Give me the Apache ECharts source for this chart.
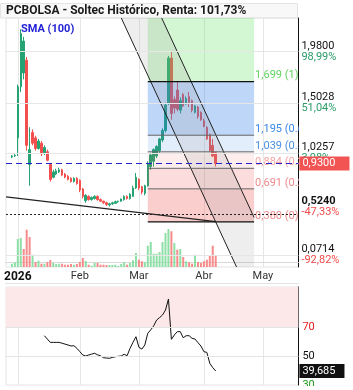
<!DOCTYPE html>
<html>
<head>
<meta charset="utf-8">
<script src="https://cdn.jsdelivr.net/npm/echarts@6/dist/echarts.min.js"></script>
<style>
  html, body { margin: 0; padding: 0; background: #fff; }
  #chart { width: 353px; height: 390px; }
</style>
</head>
<body>
<div id="chart"></div>
<script>
// trading days shown on the axis (weekdays minus market holidays)
const holidays = ['2025-12-25', '2025-12-26', '2026-01-01', '2026-04-03', '2026-04-06', '2026-05-01'];
const monthNames = ['Ene', 'Feb', 'Mar', 'Abr', 'May', 'Jun', 'Jul', 'Ago', 'Sep', 'Oct', 'Nov', 'Dic'];
const dates = [];
for (let t = Date.UTC(2025, 11, 24); t <= Date.UTC(2026, 4, 20); t += 86400000) {
  const d = new Date(t), s = d.toISOString().slice(0, 10);
  if (d.getUTCDay() !== 0 && d.getUTCDay() !== 6 && holidays.indexOf(s) < 0) dates.push(s);
}

// daily prices from 2025-12-30 to 2026-04-09
const firstDay = '2025-12-30';
const opens = [0.99, 1.00, 1.17, 1.65, 1.78, 1.90, 0.92, 1.22, 1.17, 1.07, 1.12, 1.03, 1.04, 0.92, 0.80, 0.83,
  0.85, 0.87, 0.83, 0.81, 0.79, 0.76, 0.79, 0.77, 0.69, 0.58, 0.62, 0.59, 0.60, 0.62, 0.59, 0.575, 0.56, 0.54,
  0.55, 0.555, 0.57, 0.575, 0.59, 0.62, 0.60, 0.62, 0.70, 0.78, 0.71, 0.65, 0.72, 0.90, 0.95, 1.00, 1.05, 1.15,
  1.24, 1.50, 1.92, 1.53, 1.62, 1.43, 1.58, 1.49, 1.56, 1.52, 1.41, 1.46, 1.41, 1.33, 1.27, 1.20, 1.10, 1.03];
const closes = [1.00, 1.005, 1.65, 2.15, 2.08, 1.10, 1.06, 1.12, 1.07, 1.14, 1.02, 1.08, 0.96, 0.78, 0.85, 0.86,
  0.87, 0.82, 0.80, 0.78, 0.76, 0.79, 0.74, 0.68, 0.62, 0.63, 0.59, 0.61, 0.62, 0.59, 0.575, 0.56, 0.545, 0.55,
  0.56, 0.57, 0.575, 0.595, 0.62, 0.60, 0.64, 0.70, 0.80, 0.70, 0.66, 0.72, 0.93, 1.01, 1.06, 1.09, 1.16, 1.24,
  1.48, 1.92, 1.40, 1.45, 1.44, 1.52, 1.47, 1.54, 1.50, 1.43, 1.47, 1.37, 1.34, 1.28, 1.16, 1.05, 1.00, 0.93];
const lows = [0.98, 0.99, 1.00, 1.60, 1.72, 1.05, 0.72, 1.10, 1.05, 1.06, 1.00, 1.01, 0.95, 0.76, 0.79, 0.82,
  0.84, 0.81, 0.79, 0.77, 0.75, 0.75, 0.73, 0.66, 0.60, 0.56, 0.58, 0.58, 0.59, 0.58, 0.57, 0.55, 0.53, 0.524,
  0.54, 0.55, 0.56, 0.57, 0.58, 0.59, 0.59, 0.62, 0.69, 0.68, 0.64, 0.63, 0.71, 0.87, 0.90, 0.98, 1.03, 1.13,
  1.22, 1.48, 1.34, 1.40, 1.42, 1.40, 1.46, 1.48, 1.46, 1.41, 1.40, 1.35, 1.33, 1.27, 1.15, 1.04, 0.99, 0.90];
const highs = [1.01, 1.02, 1.67, 2.19, 2.12, 1.93, 1.27, 1.25, 1.19, 1.16, 1.14, 1.10, 1.06, 0.93, 0.87, 0.88,
  0.89, 0.88, 0.84, 0.82, 0.80, 0.80, 0.80, 0.78, 0.70, 0.64, 0.63, 0.62, 0.63, 0.63, 0.60, 0.58, 0.57, 0.56,
  0.57, 0.58, 0.58, 0.60, 0.63, 0.63, 0.65, 0.72, 0.84, 0.79, 0.72, 0.73, 0.95, 1.03, 1.07, 1.10, 1.17, 1.26,
  1.50, 1.94, 1.98, 1.56, 1.70, 1.55, 1.59, 1.56, 1.60, 1.53, 1.48, 1.47, 1.42, 1.35, 1.28, 1.21, 1.16, 1.04];
// volume, millions of shares
const volumes = [0.33, 0.47, 2.8, 2.9, 1.8, 3.73, 3.0, 1.23, 0.5, 0.63, 0.33, 0.33, 0.5, 0.7, 0.4, 0.3,
  0.33, 0.33, 0.23, 0.23, 0.3, 0.23, 0.3, 0.5, 0.9, 0.6, 0.23, 0.13, 0.4, 0.4, 0.23, 0.23, 0.2, 0.2,
  0.2, 0.23, 0.1, 0.3, 0.47, 0.23, 0.4, 0.67, 1.4, 0.73, 0.57, 0.5, 2.13, 2.5, 1.33, 1.33, 1.5, 2.5,
  3.4, 3.8, 3.57, 2.4, 1.73, 1.8, 1.0, 0.57, 0.47, 0.33, 1.23, 0.5, 0.4, 0.57, 0.73, 1.17, 2.13, 1.13];

// RSI(14) from 2026-01-15
const rsiStart = '2026-01-15';
const rsi = [64.0, 61.7, 59.4, 59.4, 59.4, 59.4, 58.8, 58.2, 57.6, 56.9, 57.1, 55.3, 53.0, 50.7, 50.0, 50.7,
  51.3, 51.9, 50.8, 50.2, 48.8, 48.6, 48.4, 49.0, 49.5, 49.8, 50.0, 51.2, 50.2, 55.3, 59.5, 63.3, 56.0, 54.8,
  57.6, 65.7, 68.0, 70.8, 74.8, 76.5, 78.3, 81.7, 89.3, 61.5, 64.5, 66.8, 66.8, 62.6, 64.0, 64.0, 62.2, 61.7,
  59.2, 56.9, 53.0, 52.5, 45.0, 42.0, 39.68];
const rsiLast = 39.685;

// right price axis labels
const tickValues = [1.98, 1.5028, 1.0257, 0.524, 0.0714];
const tickPct = ['98,99%', '51,04%', '3,08%', '-47,33%', '-92,82%'];
const gridTicks = [1.98, 1.5028, 1.0257, 0.0714];
const lastPrice = 0.93;
const smaLevel = 0.93;
const dottedLevel = 0.452;

// fibonacci retracement
const fibFrom = '2026-03-05', fibTo = '2026-04-28';
const fibLevels = [1.699, 1.195, 1.039, 0.884, 0.691, 0.380];
const fibRatios = ['1', '0.618', '0.5', '0.382', '0.236', '0'];
// descending channel and trend line
const chanLeft = [['2026-03-02', 1.939], ['2026-04-10', 0.320]];
const chanRight = [['2026-03-23', 1.860], ['2026-04-28', 0.422]];
const trendLine = [['2025-12-24', 0.616], ['2026-04-09', 0.383]];

const FONT = 'Roboto, "DejaVu Sans", sans-serif';
const NONE = 'rgba(0,0,0,0)';
const dec = (v, n) => v.toFixed(n).replace('.', ',');
const pad = n => new Array(n).fill('-');
const off = dates.indexOf(firstDay);

const candleData = pad(off).concat(opens.map((o, i) => [o, closes[i], lows[i], highs[i]]));
const volData = pad(off).concat(volumes.map((v, i) => ({
  value: v,
  itemStyle: { color: (i === 0 || closes[i] >= closes[i - 1]) ? '#8ddfa6' : '#f78b8b' }
})));
const rsiData = pad(dates.indexOf(rsiStart)).concat(rsi);

const isMonthStart = i => i > 0 && dates[i].slice(5, 7) !== dates[i - 1].slice(5, 7);
const idx = d => dates.indexOf(d);

const chart = echarts.init(document.getElementById('chart'));

function drawings(params, api) {
  const cs = params.coordSys;
  const top = cs.y, bottom = cs.y + cs.height;
  const pt = p => api.coord([idx(p[0]), p[1]]);
  const xAt = (a, b, y) => a[0] + (b[0] - a[0]) * (y - a[1]) / (b[1] - a[1]);
  const kids = [];
  const x0 = api.coord([idx(fibFrom), 0])[0], x1 = api.coord([idx(fibTo), 0])[0];
  const ys = fibLevels.map(v => api.coord([0, v])[1]);
  const fills = ['rgba(80,220,80,0.25)', 'rgba(40,120,230,0.30)', 'rgba(40,120,230,0.13)',
    'rgba(240,80,80,0.10)', 'rgba(240,80,80,0.20)', 'rgba(240,80,80,0.28)'];
  const bounds = [top].concat(ys);
  for (let i = 0; i < fills.length; i++) {
    kids.push({ type: 'rect', shape: { x: x0, y: bounds[i], width: x1 - x0, height: bounds[i + 1] - bounds[i] },
      style: { fill: fills[i] } });
  }
  // channel
  const a = pt(chanLeft[0]), b = pt(chanLeft[1]);
  const c = pt(chanRight[0]), d = pt(chanRight[1]);
  const lt = [xAt(a, b, top), top], lb = [xAt(a, b, bottom), bottom];
  const rt = [xAt(c, d, top), top];
  kids.push({ type: 'polygon', shape: { points: [lt, rt, d, [x1, bottom], lb] },
    style: { fill: 'rgba(150,150,150,0.16)' } });
  kids.push({ type: 'line', shape: { x1: lt[0], y1: lt[1], x2: lb[0], y2: lb[1] }, style: { stroke: '#222', lineWidth: 1 } });
  kids.push({ type: 'line', shape: { x1: rt[0], y1: rt[1], x2: d[0], y2: d[1] }, style: { stroke: '#222', lineWidth: 1 } });
  // trend line
  const t0 = pt(trendLine[0]), t1 = pt(trendLine[1]);
  kids.push({ type: 'line', shape: { x1: t0[0] - 1.2, y1: t0[1] - 0.15, x2: t1[0], y2: t1[1] }, style: { stroke: '#222', lineWidth: 1.2 } });
  // fib lines and labels
  const labelColors = ['#5fd35f', '#3b88e6', '#4a90e2', '#f5a3a3', '#f08a8a', '#ec8c8c'];
  ys.forEach((y, i) => {
    const edge = i === 0 || i === ys.length - 1;
    kids.push({ type: 'line', shape: { x1: x0, y1: y, x2: x1, y2: y },
      style: { stroke: edge ? '#111' : '#666', lineWidth: edge ? 1.2 : 1 } });
    kids.push({ type: 'text', x: x1 + 1, y: y - 0.5,
      style: { text: dec(fibLevels[i], 3) + ' (' + fibRatios[i] + ')', fill: labelColors[i],
        font: '11px ' + FONT, verticalAlign: 'bottom', align: 'left' } });
  });
  return { type: 'group', children: kids };
}

const tickRich = {
  p: { color: '#111', fontSize: 11, fontFamily: FONT, lineHeight: 11 },
  pb: { color: '#111', fontSize: 11, fontFamily: FONT, fontWeight: 'bold', lineHeight: 11 },
  g: { color: '#2a9d68', fontSize: 11, fontFamily: FONT, lineHeight: 11 },
  r: { color: '#f04a4a', fontSize: 11, fontFamily: FONT, lineHeight: 11 }
};

const option = {
  animation: false,
  backgroundColor: '#fff',
  textStyle: { fontFamily: FONT },
  grid: [
    { left: 6, right: 54.6, top: 18, height: 249, show: true, borderColor: '#e4e4e4', borderWidth: 1 },
    { left: 6, right: 54.6, top: 287, height: 98, show: true, borderColor: '#e4e4e4', borderWidth: 1 }
  ],
  xAxis: [
    {
      gridIndex: 0, type: 'category', data: dates, boundaryGap: false,
      axisLine: { lineStyle: { color: '#d8d8d8' } }, axisTick: { show: false },
      axisLabel: {
        interval: i => isMonthStart(i),
        margin: 4, fontSize: 11, color: '#333', fontFamily: FONT,
        formatter: v => {
          const m = +v.slice(5, 7);
          return m === 1 ? '{y|' + v.slice(0, 4) + '}' : monthNames[m - 1];
        },
        rich: { y: { fontWeight: 'bold', fontSize: 12, color: '#111', fontFamily: FONT } }
      },
      splitLine: { show: true, interval: i => isMonthStart(i), lineStyle: { color: '#e6e6e6' } }
    },
    {
      gridIndex: 1, type: 'category', data: dates, boundaryGap: false,
      axisLine: { show: false }, axisTick: { show: false }, axisLabel: { show: false },
      splitLine: { show: true, interval: i => isMonthStart(i), lineStyle: { color: '#e6e6e6' } }
    }
  ],
  yAxis: [
    { gridIndex: 0, type: 'value', position: 'right', min: -0.0435, max: 2.2967,
      axisLine: { show: true, lineStyle: { color: '#111' } }, axisTick: { show: false },
      axisLabel: { show: false }, splitLine: { show: false } },
    { gridIndex: 0, type: 'value', min: 0, max: 24.9, show: false, splitLine: { show: false } },
    { gridIndex: 1, type: 'value', position: 'right', min: 30, max: 97.6,
      axisLine: { show: true, lineStyle: { color: '#111' } }, axisTick: { show: false },
      axisLabel: { show: false }, splitLine: { show: false } }
  ],
  series: [
    {
      name: 'grid', type: 'line', xAxisIndex: 0, yAxisIndex: 0, data: pad(dates.length), z: 0, silent: true,
      markLine: {
        silent: true, symbol: 'none', animation: false,
        data: tickValues.map((v, i) => ({
          yAxis: v,
          lineStyle: { color: gridTicks.indexOf(v) >= 0 ? '#e6e6e6' : NONE, width: 1, type: 'solid' },
          label: {
            position: 'end', distance: 3,
            formatter: '{' + (v === 0.524 ? 'pb' : 'p') + '|' + dec(v, 4) + '}\n{' +
              (tickPct[i][0] === '-' ? 'r' : 'g') + '|' + tickPct[i] + '}',
            rich: tickRich
          }
        }))
      }
    },
    {
      name: 'Volumen', type: 'bar', xAxisIndex: 0, yAxisIndex: 1, data: volData, barWidth: 2, z: 1
    },
    {
      name: 'PCBOLSA', type: 'candlestick', xAxisIndex: 0, yAxisIndex: 0, data: candleData, barWidth: 2, z: 2,
      itemStyle: { color: '#26a372', color0: '#f2504e', borderColor: '#26a372', borderColor0: '#f2504e', borderWidth: 1 }
    },
    {
      name: 'drawings', type: 'custom', xAxisIndex: 0, yAxisIndex: 0, data: [[0, 0]], z: 3, clip: true,
      silent: true, renderItem: drawings
    },
    {
      name: 'levels', type: 'line', xAxisIndex: 0, yAxisIndex: 0, data: pad(dates.length), z: 5, silent: true,
      markLine: {
        silent: true, symbol: 'none', animation: false,
        data: [
          { yAxis: dottedLevel, lineStyle: { color: '#222', width: 1, type: [2, 2] }, label: { show: false } },
          { yAxis: smaLevel, lineStyle: { color: '#2424cc', width: 1.2, type: [6, 4] }, label: { show: false } },
          { yAxis: lastPrice, lineStyle: { color: NONE },
            label: { position: 'end', distance: 1, formatter: dec(lastPrice, 4), color: '#fff',
              backgroundColor: '#f25353', padding: [2, 14, 1, 3], fontSize: 11, fontFamily: FONT } }
        ]
      }
    },
    {
      name: 'RSI (14)', type: 'line', xAxisIndex: 1, yAxisIndex: 2, data: rsiData, symbol: 'none',
      lineStyle: { color: '#111', width: 1 }, z: 3,
      markArea: { silent: true, itemStyle: { color: '#fde8e9' }, data: [[{ yAxis: 70 }, { yAxis: 97.6 }]] },
      markLine: {
        silent: true, symbol: 'none', animation: false,
        data: [
          { yAxis: 70, lineStyle: { color: '#e4e4e4', type: 'solid', width: 1 },
            label: { position: 'end', distance: 4, formatter: '70', color: '#e82020', fontSize: 11, fontFamily: FONT } },
          { yAxis: 50, lineStyle: { color: '#e4e4e4', type: 'solid', width: 1 },
            label: { position: 'end', distance: 4, formatter: '50', color: '#111', fontSize: 11, fontFamily: FONT } },
          { yAxis: 30, lineStyle: { color: NONE },
            label: { position: 'end', distance: 4, formatter: '30', color: '#1a9a1a', fontSize: 11, fontFamily: FONT } },
          { yAxis: rsiLast, lineStyle: { color: NONE },
            label: { position: 'end', distance: 1, formatter: dec(rsiLast, 3), color: '#fff',
              backgroundColor: '#111', padding: [2, 9, 1, 3], fontSize: 11, fontFamily: FONT } }
        ]
      }
    }
  ],
  graphic: [
    { type: 'rect', shape: { x: 0.5, y: 3.5, width: 297, height: 14.5 }, style: { fill: '#f8f8f8', stroke: '#e4e4e4' }, z: -1 },
    { type: 'text', x: 6, y: 11, style: { text: 'PCBOLSA - Soltec Histórico, Renta: 101,73%', fill: '#1a1a1a',
      font: 'bold 12px ' + FONT, verticalAlign: 'middle' } },
    { type: 'text', x: 21, y: 29, style: { text: 'SMA (100)', fill: '#2424d6', font: 'bold 11px ' + FONT, verticalAlign: 'middle' } },
    { type: 'text', x: 21, y: 293, style: { text: 'RSI (14)   39,68', fill: '#1a1a1a', font: 'bold 11px ' + FONT, verticalAlign: 'middle' } },
    { type: 'line', shape: { x1: 5, y1: 283.5, x2: 299, y2: 283.5 }, style: { stroke: '#e4e4e4' } },
    { type: 'rect', shape: { x: 300, y: 386, width: 53, height: 4 }, style: { fill: '#fff' }, z: 100 }
  ]
};

chart.setOption(option);
</script>
</body>
</html>
